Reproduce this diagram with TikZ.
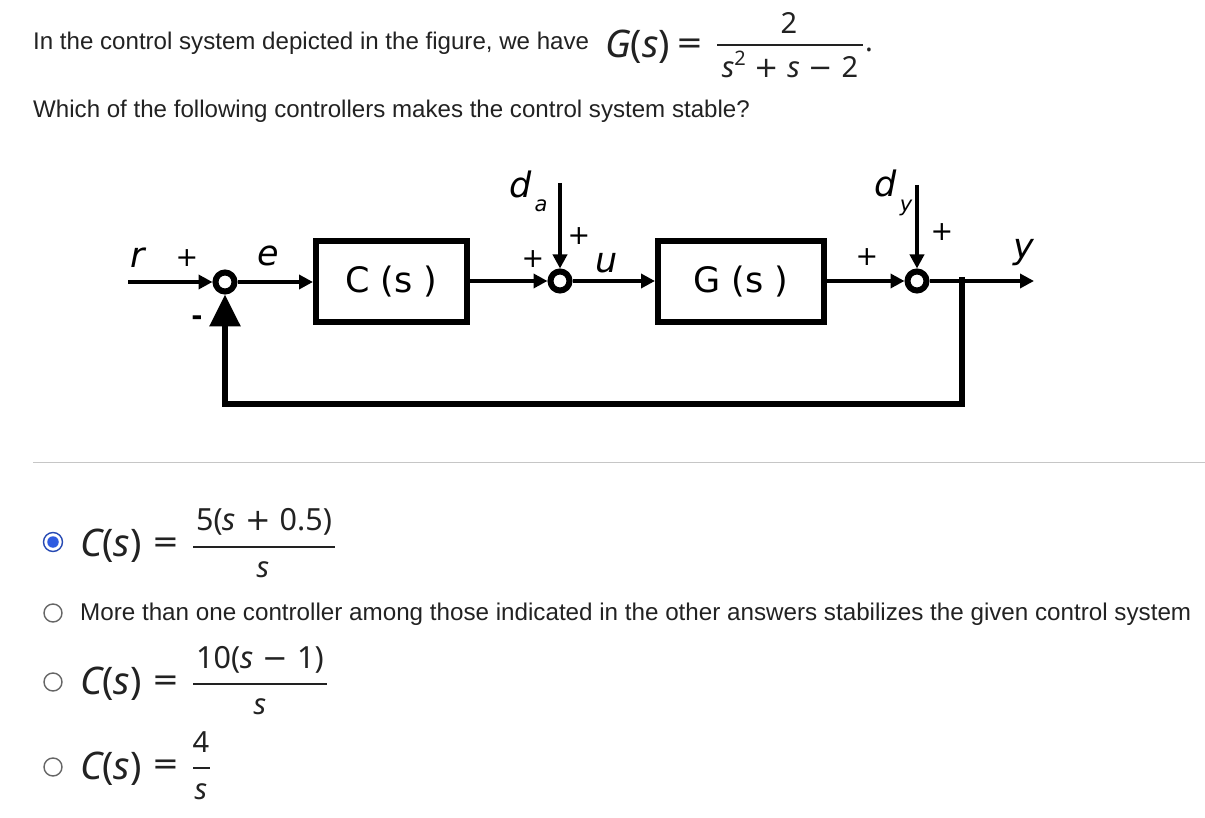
\documentclass[tikz,border=0pt]{standalone}
\usepackage{fontspec}
\setmainfont{Liberation Sans}
\newfontfamily\dvs{DejaVu Sans}
\newfontfamily\mfont{Noto Sans}
\usetikzlibrary{arrows.meta}
\definecolor{txt}{HTML}{222222}
\definecolor{radblue}{HTML}{2F5BE0}
\newcommand{\fsz}[1]{\fontsize{#1}{#1}\selectfont}
\newcommand{\mi}[1]{{\itshape #1}}
\newcommand{\op}[1]{\hspace{0.3em}{\dvs #1}\hspace{0.3em}}
\tikzset{
  qtext/.style={anchor=base west,inner sep=0,text=txt,font=\fsz{24.3}},
  sumc/.style={circle,draw,line width=6pt,minimum size=19pt,inner sep=0},
  blockbox/.style={draw,line width=6pt,inner sep=0,font=\dvs\fsz{35}},
  sig/.style={line width=3.5pt,-{Triangle[length=14pt,width=14pt]}},
  fb/.style={line width=6pt,-{Triangle[length=32pt,width=30pt]}},
  lbl/.style={inner sep=0,font=\dvs\itshape\fsz{35}},
  sub/.style={inner sep=0,font=\dvs\itshape\fsz{21}},
  pm/.style={inner sep=0,font=\dvs\fsz{27}},
  mbig/.style={inner sep=0,text=txt,font=\mfont\fsz{38}},
  meq/.style={inner sep=0,text=txt,font=\dvs\fsz{32}},
  mfr/.style={inner sep=0,text=txt,font=\mfont\fsz{29}},
  mnum/.style={inner sep=0,text=txt,font=\mfont\fsz{30.5}},
  radio/.style={circle,draw=gray!80!black,line width=1.4pt,minimum size=18pt,inner sep=0,fill=white},
  fracbar/.style={line width=1.6pt,draw=txt}
}
\begin{document}
\begin{tikzpicture}[x=1pt,y=-1pt]
\useasboundingbox[fill=white] (0,0) rectangle (1205,818);
% question
\node[qtext,font=\fsz{24.1}] (q1) at (33,50) {In the control system depicted in the figure, we have};
\node[mbig,anchor=base west] (gs) at (605,58) {\mi{G}(\mi{s})};
\node[meq] (geq) at (690,46) {=};
\node[mfr] (gnum) at (789,23) {2};
\coordinate (gb1) at (717,45);
\coordinate (gb2) at (863,45);
\draw[fracbar] (gb1) -- (gb2);
\node[mfr,anchor=base] (gden) at (790,78) {\mi{s}\raisebox{0.42em}{\fsz{20}2}\op{+}\mi{s}\op{−}2};
\node[mfr] (gdot) at (869,50) {.};
\node[qtext,font=\fsz{24.1}] (q2) at (33,118) {Which of the following controllers makes the control system stable?};
% diagram
\node[sumc] (s1) at (225,282) {};
\node[sumc] (s2) at (560,281) {};
\node[sumc] (s3) at (917,281) {};
\node[blockbox,minimum width=151pt,minimum height=81pt] (C) at (391.5,281.5) {C (s )};
\node[blockbox,minimum width=166pt,minimum height=81pt] (G) at (741,281.5) {G (s )};
\coordinate (rin) at (128,282);
\coordinate (da) at (560,183);
\coordinate (dy) at (917,185);
\coordinate (yout) at (1034,281);
\coordinate (br) at (962,277);
\coordinate (fb1) at (962,404);
\coordinate (fb2) at (225,404);
\draw[sig] (rin) -- (s1);
\draw[sig] (s1) -- (C.west |- s1);
\draw[sig] (C.east |- s2) -- (s2);
\draw[sig] (s2) -- (G.west |- s2);
\draw[sig] (G.east |- s3) -- (s3);
\draw[sig] (s3) -- (yout);
\draw[sig] (da) -- (s2);
\draw[sig] (dy) -- (s3);
\draw[fb] (br) -- (fb1) -- (fb2) -- (s1);
% labels
\node[lbl] (lr) at (138,258) {r};
\node[pm] (p1) at (187,258) {+};
\node[lbl] (le) at (268,256) {e};
\node[pm,font=\dvs\bfseries\fsz{27}] (m1) at (197,321) {-};
\node[lbl] (lda) at (521,184) {d};
\node[sub] (lsa) at (541,206) {a};
\node[pm] (p2) at (579,236) {+};
\node[pm] (p3) at (533,259) {+};
\node[lbl] (lu) at (607,263) {u};
\node[lbl] (ldy) at (886,183) {d};
\node[sub] (lsy) at (906,208) {y};
\node[pm] (p4) at (942,232) {+};
\node[pm] (p5) at (867,257) {+};
\node[lbl] (ly) at (1024,253) {y};
% separator
\draw[gray!45,line width=1pt] (33,462) -- (1205,462);
% answer 1
\node[radio,draw=radblue!80!black,minimum size=19pt] (r1) at (53,542) {};
\node[circle,fill=radblue,minimum size=11.5pt,inner sep=0] (r1d) at (r1) {};
\node[mbig,anchor=base west] (a1l) at (80,556) {\mi{C}(\mi{s})};
\node[meq] (a1e) at (166,545) {=};
\node[mnum,anchor=base] (a1n) at (264,530) {5(\mi{s}\op{+}0.5)};
\coordinate (a1b1) at (193,547);
\coordinate (a1b2) at (335,547);
\draw[fracbar] (a1b1) -- (a1b2);
\node[mfr,anchor=base] (a1d) at (263,577) {\mi{s}};
% answer 2
\node[radio] (r2) at (53,613) {};
\node[qtext,font=\fsz{24.2}] (a2) at (80,620) {More than one controller among those indicated in the other answers stabilizes the given control system};
% answer 3
\node[radio] (r3) at (53,682) {};
\node[mbig,anchor=base west] (a3l) at (80,694) {\mi{C}(\mi{s})};
\node[meq] (a3e) at (166,683) {=};
\node[mnum,anchor=base] (a3n) at (260,668) {10(\mi{s}\op{−}1)};
\coordinate (a3b1) at (193,684);
\coordinate (a3b2) at (327,684);
\draw[fracbar] (a3b1) -- (a3b2);
\node[mfr,anchor=base] (a3d) at (260,714) {\mi{s}};
% answer 4
\node[radio] (r4) at (53,767) {};
\node[mbig,anchor=base west] (a4l) at (80,779) {\mi{C}(\mi{s})};
\node[meq] (a4e) at (166,767) {=};
\node[mfr,anchor=base] (a4n) at (201,752) {4};
\coordinate (a4b1) at (193,768);
\coordinate (a4b2) at (210,768);
\draw[fracbar] (a4b1) -- (a4b2);
\node[mfr,anchor=base] (a4d) at (201,799) {\mi{s}};
\end{tikzpicture}
\end{document}
